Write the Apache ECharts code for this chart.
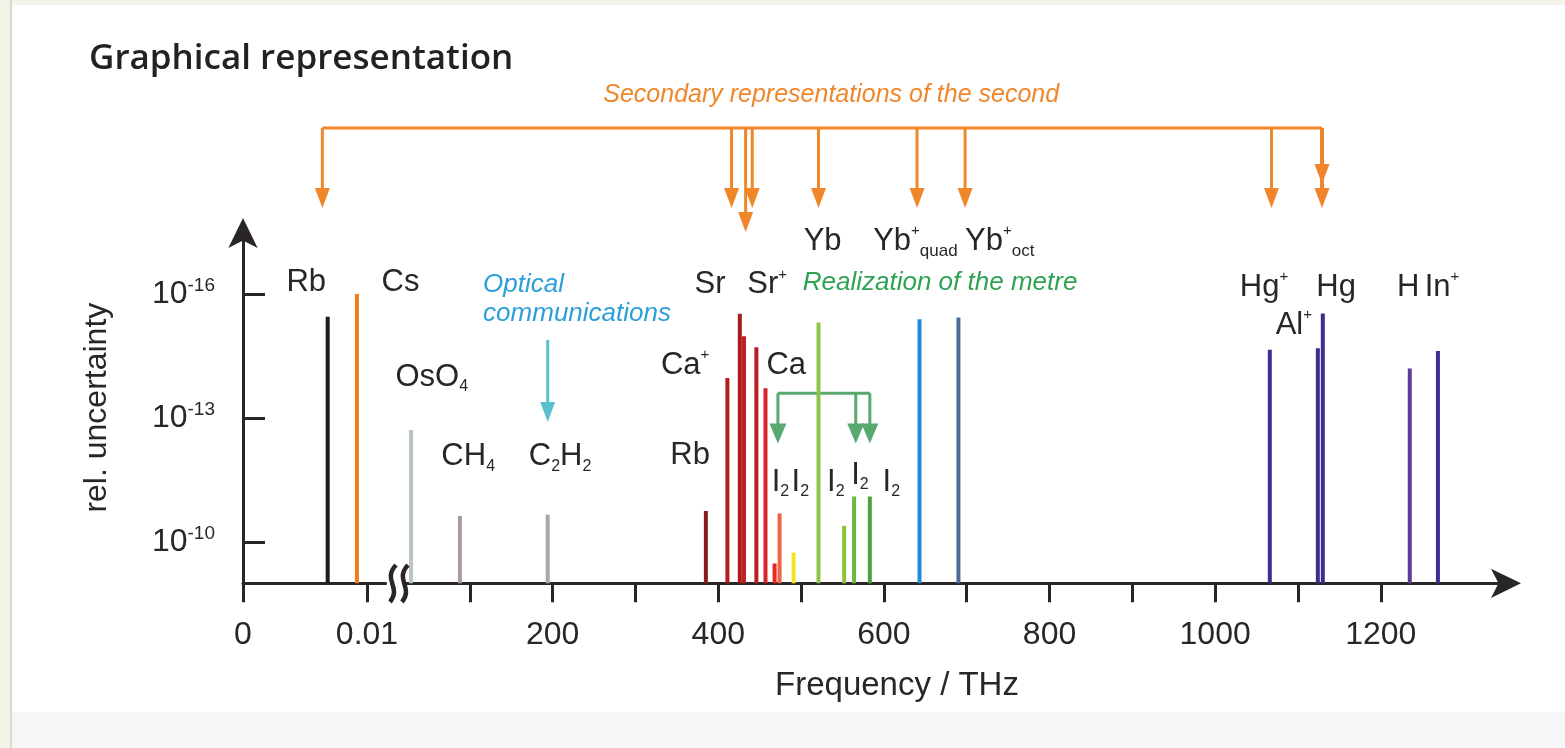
<!DOCTYPE html>
<html>
<head>
<meta charset="utf-8">
<script src="https://cdn.jsdelivr.net/npm/echarts@6/dist/echarts.min.js"></script>
<style>
  html, body { margin: 0; padding: 0; background: #fff; }
  #chart { width: 1565px; height: 748px; }
</style>
</head>
<body>
<div id="chart"></div>
<script>
// y values are log10 of the relative uncertainty, plotted as -log10
const microFreq = [0.00683, 0.00919];          // THz  (Rb, Cs)
const microUnc = [-15.45, -16.0];
const microColors = ['#1c1c1c', '#ee7d22'];

const optFreq = [29, 88, 194, 385, 411, 426, 431, 446, 457, 468, 474, 491, 521, 552, 564, 583, 643, 690, 1066, 1124, 1130, 1235, 1269];
const optUnc = [-12.71, -10.63, -10.66, -10.75, -13.97, -15.52, -14.98, -14.71, -13.72, -9.48, -10.69, -9.74, -15.31, -10.39, -11.1, -11.1, -15.39, -15.43, -14.65, -14.69, -15.53, -14.2, -14.62];
const optColors = ['#b9c5be', '#a89ca2', '#a9a7a9', '#8a1c1c', '#b31d1d', '#a41c1c', '#c21f1f', '#b81e20', '#d9232a', '#ee2323', '#ef6442', '#f4e41c', '#8fc44b', '#8dc43d', '#6db541', '#4aa43a', '#1f8ad6', '#4f6b98', '#3b2f8e', '#3b2f8e', '#3b2f8e', '#5b3c96', '#3b2f8e'];

const yTicks = [10, 13, 16];
const xTicksMicro = [0, 0.01];
const xTicksOpt = [100, 200, 300, 400, 500, 600, 700, 800, 900, 1000, 1100, 1200];
const xLabelsOpt = [200, 400, 600, 800, 1000, 1200];

// annotation labels: [text, frequency, -log10 position]
const microLabels = [['Rb', 0.0051, 16.27], ['Cs', 0.0127, 16.27]];
const optLabels = [
  ['OsO{sub|4}', 54, 13.99],
  ['CH{sub|4}', 98, 12.07],
  ['C{sub|2}H{sub|2}', 209, 12.07],
  ['Rb', 366, 12.1],
  ['Ca{sup|+}', 360, 14.28],
  ['Sr', 390, 16.22],
  ['Sr{sup|+}', 459, 16.22],
  ['Ca', 482, 14.28],
  ['Yb', 526, 17.27],
  ['I{sub|2}', 475, 11.45],
  ['I{sub|2}', 499, 11.45],
  ['I{sub|2}', 542, 11.45],
  ['I{sub|2}', 571, 11.62],
  ['I{sub|2}', 609, 11.45],
  ['Hg{sup|+}', 1059, 16.17],
  ['Hg', 1146, 16.17],
  ['Al{sup|+}', 1095, 15.25],
  ['H', 1233, 16.17],
  ['In{sup|+}', 1274, 16.17]
];
const optLabelsLeft = [
  ['Yb{sup|+}{subw|quad}', 587, 17.27],
  ['Yb{sup|+}{subw|oct}', 698, 17.27]
];

const secondArrowsMicro = [0.0064];
const secondArrowsOpt = [416, 433, 441, 521, 640, 698, 1068, 1129];
const metreArrows = [472, 566, 583];

const Y_MIN = 9, Y_MAX = 17.5;
const ink = '#2a2627';
const font = 'Liberation Sans, Arial, sans-serif';

const rich = {
  sub: { fontSize: 16, lineHeight: 16, verticalAlign: 'bottom', fill: ink, fontFamily: font },
  subw: { fontSize: 17, lineHeight: 17, verticalAlign: 'bottom', fill: ink, fontFamily: font },
  sup: { fontSize: 15, lineHeight: 15, verticalAlign: 'top', fill: ink, fontFamily: font }
};

let chart = echarts.init(document.getElementById('chart'));

function stickSeries(idx, freqs, unc, colors) {
  return {
    type: 'custom', xAxisIndex: idx, yAxisIndex: idx, z: 2,
    data: freqs.map((f, i) => [f, -unc[i]]),
    renderItem: function (params, api) {
      const tp = api.coord([api.value(0), api.value(1)]);
      const base = api.coord([api.value(0), Y_MIN]);
      return {
        type: 'line',
        shape: { x1: tp[0], y1: tp[1], x2: base[0], y2: base[1] },
        style: { stroke: colors[params.dataIndex], lineWidth: 4 }
      };
    }
  };
}

function labelSeries(idx, items, align) {
  return {
    type: 'custom', xAxisIndex: idx, yAxisIndex: idx, z: 5, silent: true,
    data: items.map(d => [d[1], d[2]]),
    renderItem: function (params, api) {
      const p = api.coord([api.value(0), api.value(1)]);
      return {
        type: 'text', x: p[0], y: p[1],
        style: {
          text: items[params.dataIndex][0], fill: ink, fontSize: 31, lineHeight: 36,
          fontFamily: font, align: align, verticalAlign: 'middle', rich: rich
        }
      };
    }
  };
}

const axisLineStyle = { color: ink, width: 3 };

let option = {
  backgroundColor: '#ffffff',
  animation: false,
  title: {
    text: 'Graphical representation', left: 84, top: 37,
    textStyle: { fontFamily: 'Open Sans', fontWeight: 600, fontSize: 35, color: '#222' }
  },
  grid: [
    { left: 243, top: 232, width: 142.6, height: 351.3, containLabel: false },
    { left: 403.6, top: 232, width: 1101.4, height: 351.3, containLabel: false }
  ],
  xAxis: [
    {
      type: 'value', gridIndex: 0, min: 0, max: 0.0115,
      axisLine: { show: true, onZero: false, lineStyle: axisLineStyle },
      axisTick: { show: true, length: 19, lineStyle: axisLineStyle, customValues: xTicksMicro },
      axisLabel: { customValues: xTicksMicro, formatter: v => (v === 0 ? '0' : '0.01'), margin: 36, fontSize: 32, color: ink, fontFamily: font },
      splitLine: { show: false }
    },
    {
      type: 'value', gridIndex: 1, min: 20, max: 1350,
      axisLine: { show: true, onZero: false, lineStyle: axisLineStyle, symbol: ['none', 'arrow'], symbolSize: [22, 30], symbolOffset: [0, 16] },
      axisTick: { show: true, length: 19, lineStyle: axisLineStyle, customValues: xTicksOpt },
      axisLabel: { customValues: xLabelsOpt, formatter: v => String(Math.round(v)), margin: 36, fontSize: 32, color: ink, fontFamily: font },
      splitLine: { show: false }
    }
  ],
  yAxis: [
    {
      type: 'value', gridIndex: 0, min: Y_MIN, max: Y_MAX,
      axisLine: { show: true, onZero: false, lineStyle: axisLineStyle, symbol: ['none', 'arrow'], symbolSize: [22, 30], symbolOffset: [0, 14] },
      axisTick: { show: true, inside: true, length: 22, lineStyle: axisLineStyle, customValues: yTicks },
      axisLabel: {
        customValues: yTicks, formatter: v => '10{sup|-' + Math.round(v) + '}', margin: 28,
        fontSize: 32, lineHeight: 36, color: ink, fontFamily: font,
        rich: { sup: { fontSize: 19, lineHeight: 19, verticalAlign: 'top', color: ink, fontFamily: font } }
      },
      splitLine: { show: false },
      name: 'rel. uncertainty', nameLocation: 'middle', nameGap: 130,
      nameTextStyle: { fontSize: 32, color: ink, fontFamily: font }
    },
    { type: 'value', gridIndex: 1, min: Y_MIN, max: Y_MAX, show: false }
  ],
  series: [
    stickSeries(0, microFreq, microUnc, microColors),
    stickSeries(1, optFreq, optUnc, optColors),
    labelSeries(0, microLabels, 'center'),
    labelSeries(1, optLabels, 'center'),
    labelSeries(1, optLabelsLeft, 'left')
  ]
};
chart.setOption(option);

// decorations positioned from the axis scales
const px0 = v => chart.convertToPixel({ gridIndex: 0 }, v);
const px1 = v => chart.convertToPixel({ gridIndex: 1 }, v);

function downArrow(x, y1, y2, color, lw, hw, hh) {
  return [
    { type: 'line', shape: { x1: x, y1: y1, x2: x, y2: y2 - hh + 2 }, style: { stroke: color, lineWidth: lw } },
    { type: 'polygon', shape: { points: [[x - hw / 2, y2 - hh], [x + hw / 2, y2 - hh], [x, y2]] }, style: { fill: color } }
  ];
}

const orange = '#f0862a';
const green = '#58a86f';
const cyan = '#5cbfd0';
let g = [];

// page frame
g.push({ type: 'rect', shape: { x: 0, y: 0, width: 1565, height: 5 }, style: { fill: '#f4f4ea' }, z: -10 });
g.push({ type: 'rect', shape: { x: 0, y: 0, width: 10, height: 748 }, style: { fill: '#f2f2e6' }, z: -10 });
g.push({ type: 'rect', shape: { x: 10, y: 0, width: 2, height: 748 }, style: { fill: '#d9d9cf' }, z: -10 });
g.push({ type: 'rect', shape: { x: 12, y: 712, width: 1553, height: 36 }, style: { fill: '#f6f6f6' }, z: -10 });

// secondary representations of the second
const ox = secondArrowsMicro.map(f => px0([f, 10])[0]).concat(secondArrowsOpt.map(f => px1([f, 10])[0]));
const barY = 128;
g.push({ type: 'line', shape: { x1: ox[0], y1: barY, x2: ox[ox.length - 1], y2: barY }, style: { stroke: orange, lineWidth: 3 } });
ox.forEach((x, i) => {
  const tip = (i === 2) ? 232 : 208;
  g = g.concat(downArrow(x, barY, tip, orange, i === ox.length - 1 ? 4 : 3, 15, 20));
});
g = g.concat(downArrow(ox[ox.length - 1], barY, 184, orange, 4, 15, 20));
g.push({
  type: 'text', x: (ox[0] + ox[ox.length - 1]) / 2 + 9, y: 95,
  style: { text: 'Secondary representations of the second', fill: orange, font: 'italic 25px ' + font, textAlign: 'center', textVerticalAlign: 'middle' }
});

// realization of the metre
const metreTop = px1([0, 13.6])[1];
const metreTip = px1([0, 12.38])[1];
const mx = metreArrows.map(f => px1([f, 10])[0]);
g.push({ type: 'line', shape: { x1: mx[0], y1: metreTop, x2: mx[mx.length - 1], y2: metreTop }, style: { stroke: green, lineWidth: 3 } });
mx.forEach(x => { g = g.concat(downArrow(x, metreTop, metreTip, green, 3, 17, 20)); });
const mt = px1([502, 16.27]);
g.push({
  type: 'text', x: mt[0], y: mt[1],
  style: { text: 'Realization of the metre', fill: '#2ea352', font: 'italic 26px ' + font, textAlign: 'left', textVerticalAlign: 'middle' }
});

// optical communications
const oc = px1([116, 15.88]);
g.push({
  type: 'text', x: oc[0], y: oc[1],
  style: { text: 'Optical\ncommunications', fill: '#2a9fd8', font: 'italic 26px ' + font, lineHeight: 29, textAlign: 'left', textVerticalAlign: 'middle' }
});
const ca = px1([194, 14.89]);
const cb = px1([194, 12.9]);
g = g.concat(downArrow(ca[0], ca[1], cb[1], cyan, 3, 15, 20));

// axis break
const bx = 391, by = 584;
g.push({ type: 'rect', shape: { x: bx - 4, y: by - 6, width: 16, height: 12 }, style: { fill: '#fff' }, z: 10 });
[0, 12].forEach(dx => {
  g.push({
    type: 'bezierCurve', z: 11,
    shape: { x1: bx + dx + 5, y1: by - 19, x2: bx + dx - 1, y2: by + 18, cpx1: bx + dx - 9, cpy1: by - 4, cpx2: bx + dx + 11, cpy2: by + 3 },
    style: { stroke: ink, lineWidth: 4.5, fill: null }
  });
});

// x axis name
g.push({
  type: 'text', x: 897, y: 686,
  style: { text: 'Frequency / THz', fill: ink, font: '33px ' + font, textAlign: 'center', textVerticalAlign: 'middle' }
});

chart.setOption({ graphic: { elements: g } });
</script>
</body>
</html>
